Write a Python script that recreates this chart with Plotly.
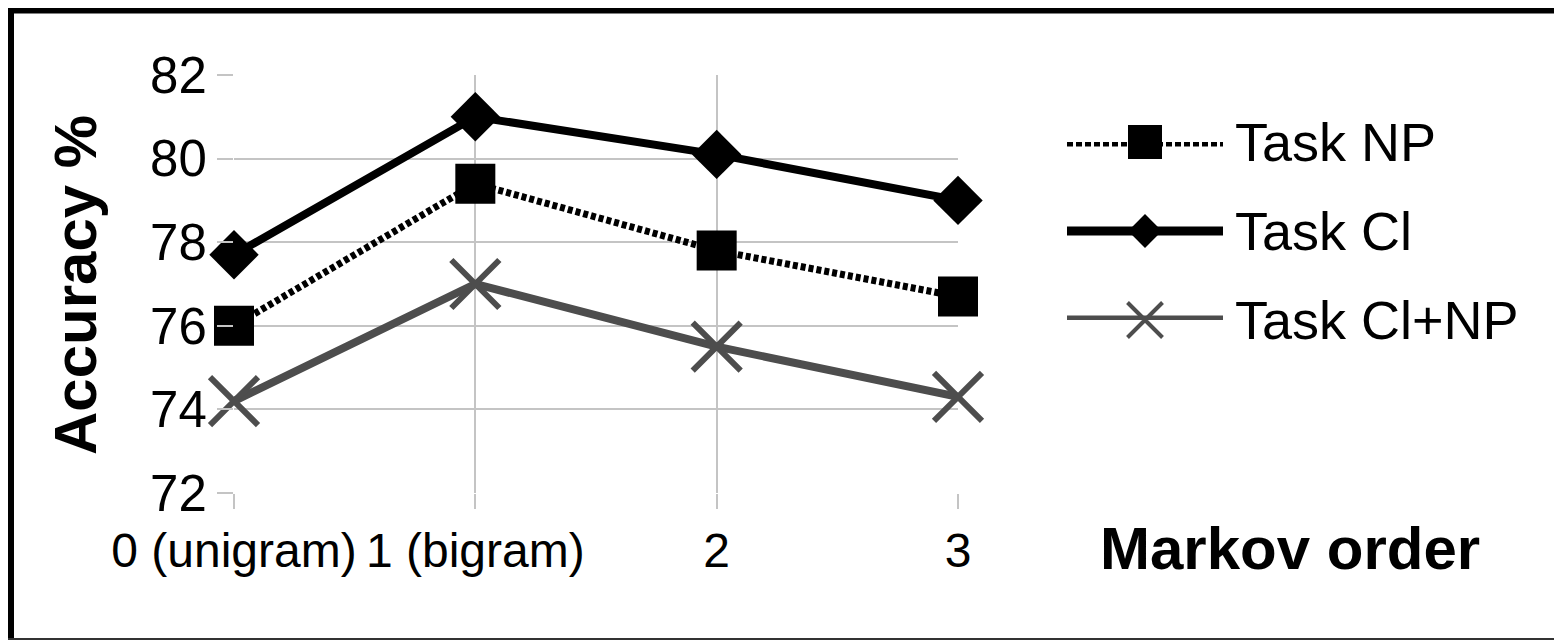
import plotly.graph_objects as go

categories = ["0 (unigram)", "1 (bigram)", "2", "3"]
task_np = [76.0, 79.4, 77.8, 76.7]
task_ci = [77.7, 81.0, 80.1, 79.0]
task_ci_np = [74.2, 77.0, 75.5, 74.3]
series_names = ["Task NP", "Task Cl", "Task Cl+NP"]
y_ticks = [72, 74, 76, 78, 80, 82]

# page body has an 8px margin; work in window pixel coordinates
OFF = 8
W, H = 1562 - OFF, 640 - OFF
def px(x):
    return (x - OFF) / W
def py(y):
    return 1 - (y - OFF) / H

FONT = "Liberation Sans, Arial, sans-serif"
GRID = "#c4c4c4"
GRAY = "#4d4d4d"

xpos = list(range(len(categories)))

fig = go.Figure()

styles = [
    dict(line=dict(color="black", width=7, dash="5px,3px"),
         marker=dict(symbol="square", size=40, color="black")),
    dict(line=dict(color="black", width=8),
         marker=dict(symbol="diamond", size=38, color="black")),
    dict(line=dict(color=GRAY, width=8),
         marker=dict(symbol="x-thin-open", size=48, color=GRAY,
                     line=dict(color=GRAY, width=6))),
]
legend_markers = [
    dict(symbol="square", size=34, color="black"),
    dict(symbol="diamond", size=26, color="black"),
    dict(symbol="x-thin-open", size=35, color=GRAY, line=dict(color=GRAY, width=4)),
]
legend_lines = [
    dict(color="black", width=9, dash="6px,3px"),
    dict(color="black", width=9),
    dict(color=GRAY, width=9),
]
legend_rows_px = [142, 231, 320]

for name, vals, st in zip(series_names, [task_np, task_ci, task_ci_np], styles):
    fig.add_trace(go.Scatter(x=xpos, y=vals, mode="lines+markers", name=name,
                             line=st["line"], marker=st["marker"],
                             cliponaxis=False, showlegend=False,
                             xaxis="x", yaxis="y"))

# custom legend samples on an auxiliary axis
for i, name in enumerate(series_names):
    fig.add_trace(go.Scatter(x=[0, 1], y=[i, i], mode="lines", line=legend_lines[i],
                             showlegend=False, cliponaxis=False,
                             xaxis="x2", yaxis="y2", hoverinfo="skip"))
    fig.add_trace(go.Scatter(x=[0.5], y=[i], mode="markers", marker=legend_markers[i],
                             showlegend=False, cliponaxis=False,
                             xaxis="x2", yaxis="y2", hoverinfo="skip"))
    fig.add_annotation(x=px(1233), y=py(legend_rows_px[i]), xref="paper", yref="paper",
                       text=name, showarrow=False,
                       xanchor="left", yanchor="middle",
                       font=dict(family=FONT, size=54, color="black"))

fig.update_layout(
    template="none",
    width=W, height=H,
    margin=dict(l=0, r=0, t=0, b=0, pad=0, autoexpand=False),
    paper_bgcolor="white", plot_bgcolor="white",
    showlegend=False,
    xaxis=dict(domain=[px(234), px(958)], range=[0, 3],
               tickvals=xpos, ticktext=categories, tickangle=0,
               showgrid=True, gridcolor=GRID, gridwidth=2,
               ticks="outside", ticklen=15, tickwidth=2, tickcolor=GRID,
               zeroline=False, showline=False, automargin=False,
               tickfont=dict(family=FONT, size=48, color="black")),
    yaxis=dict(domain=[py(493), py(75)], range=[72, 82],
               tickvals=y_ticks,
               showgrid=True, gridcolor=GRID, gridwidth=2,
               ticks="outside", ticklen=16, tickwidth=2, tickcolor=GRID,
               zeroline=False, showline=False, automargin=False,
               tickfont=dict(family=FONT, size=51, color="black")),
    xaxis2=dict(domain=[px(1067), px(1223)], range=[0, 1], visible=False,
                anchor="y2", automargin=False),
    yaxis2=dict(domain=[py(320), py(142)], range=[2, 0], visible=False,
                anchor="x2", automargin=False),
)

fig.add_annotation(x=px(75), y=py(285), xref="paper", yref="paper",
                   text="<b>Accuracy %</b>", textangle=-90, showarrow=False,
                   xanchor="center", yanchor="middle",
                   font=dict(family=FONT, size=60, color="black"))
fig.add_annotation(x=px(1290), y=py(548), xref="paper", yref="paper",
                   text="<b>Markov order</b>", showarrow=False,
                   xanchor="center", yanchor="middle",
                   font=dict(family=FONT, size=60, color="black"))

# outer frame
fig.add_shape(type="line", xref="paper", yref="paper",
              x0=px(11), x1=px(11), y0=py(8), y1=py(640),
              line=dict(color="black", width=6))
fig.add_shape(type="line", xref="paper", yref="paper",
              x0=px(8), x1=px(1562), y0=py(10.5), y1=py(10.5),
              line=dict(color="black", width=6))
fig.add_shape(type="line", xref="paper", yref="paper",
              x0=px(8), x1=px(1562), y0=py(639), y1=py(639),
              line=dict(color="#333333", width=2))

fig.write_html("out.html")
